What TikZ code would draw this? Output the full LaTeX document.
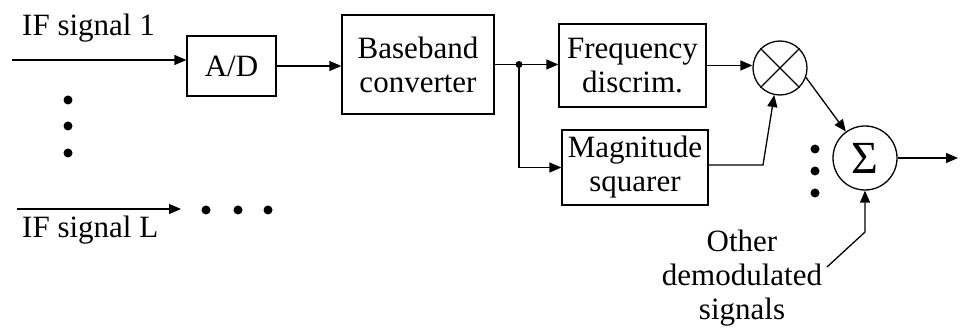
\documentclass[tikz,border=0pt]{standalone}
\usepackage{fontspec}
\setmainfont{Liberation Serif}
\usetikzlibrary{arrows.meta}
\begin{document}
\begin{tikzpicture}[x=1pt,y=-1pt,
  every node/.style={font=\fontsize{31}{34}\selectfont, inner sep=0pt},
  blk/.style={draw, line width=1.3pt, rectangle, align=center},
  op/.style={draw, line width=1.3pt, circle},
  conn/.style={line width=1.3pt, -{Triangle[length=12pt,width=10pt]}},
  wire/.style={line width=1.3pt},
  dotmark/.style={fill, circle, minimum size=9pt}]
\useasboundingbox (0,0) rectangle (960,328);
% blocks
\node[blk, minimum width=89pt, minimum height=60pt] (AD) at (231.5,66) {A/D};
\node[blk, minimum width=152pt, minimum height=99pt] (BB) at (418,64.5) {Baseband\\converter};
\node[blk, minimum width=147pt, minimum height=83pt] (FD) at (632.5,65.5) {Frequency\\discrim.};
\node[blk, minimum width=146pt, minimum height=75pt] (MS) at (635,167.5) {Magnitude\\squarer};
\node[op, minimum size=54pt] (M) at (780,68) {};
\draw[line width=1.3pt] (M.45) -- (M.225) (M.135) -- (M.315);
\node[op, minimum size=64pt, font=\fontsize{46}{46}\selectfont] (S) at (865,158) {Σ};
% labels
\node[anchor=base west] (l1) at (22,36) {IF signal 1};
\node[anchor=base west] (lL) at (22,238) {IF signal L};
\node[align=center] (oth) at (742,278) {Other\\demodulated\\signals};
% dots
\node[dotmark] (d1) at (68,100) {};
\node[dotmark] (d2) at (68,126) {};
\node[dotmark] (d3) at (68,153) {};
\node[dotmark] (h1) at (206,210) {};
\node[dotmark] (h2) at (238,210) {};
\node[dotmark] (h3) at (268,210) {};
\node[dotmark] (s1) at (815,149) {};
\node[dotmark] (s2) at (815,171) {};
\node[dotmark] (s3) at (815,193) {};
% coordinates
\coordinate (in1) at (12,60);
\coordinate (inL) at (17,209);
\coordinate (inLe) at (181,209);
\coordinate (j) at (519,64.5);
\coordinate (bend) at (763,165);
\coordinate (ob1) at (827,267);
\coordinate (ob2) at (865,232);
\coordinate (out) at (958,158);
% connectors
\draw[conn] (in1) -- (AD.west |- in1);
\draw[conn] (inL) -- (inLe);
\draw[conn] (AD.east) -- (AD.east -| BB.west);
\draw[conn] (BB.east) -- (BB.east -| FD.west);
\fill (j) circle (3.5pt);
\draw[conn] (j) |- (MS.west);
\draw[conn] (FD.east) -- (FD.east -| M.west);
\draw[conn] (MS.east |- bend) -- (bend) -- (M.258);
\draw[conn] (M.-20) -- (S.126);
\draw[conn] (S.east) -- (out);
\draw[conn] (ob1) -- (ob2) -- (S.south);
\end{tikzpicture}
\end{document}
